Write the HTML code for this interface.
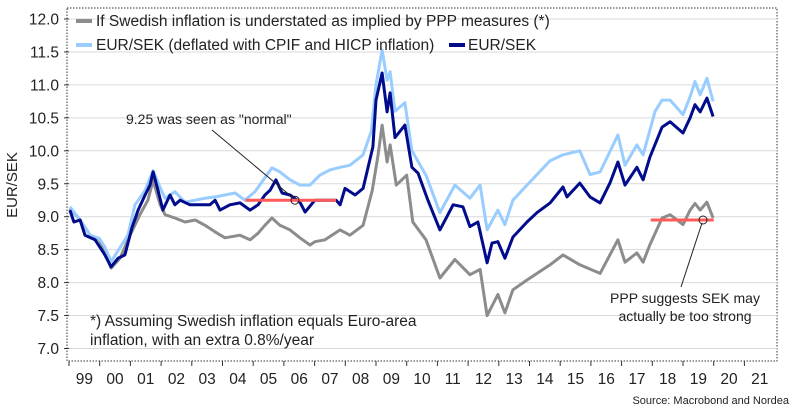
<!DOCTYPE html>
<html><head><meta charset="utf-8">
<style>
html,body{margin:0;padding:0;background:#fff;}
svg{display:block;font-family:"Liberation Sans",sans-serif;}
</style></head>
<body>
<svg id="chart" width="794" height="416" viewBox="0 0 794 416" xmlns="http://www.w3.org/2000/svg">
<rect x="67" y="8" width="710" height="353" fill="none" stroke="#333" stroke-width="1" stroke-dasharray="1.5,1.5"/>
<g id="grid"></g>
<g id="yaxis"></g>
<g id="xaxis"></g>
<text transform="translate(17,185) rotate(-90)" text-anchor="middle" font-size="15" fill="#222">EUR/SEK</text>
<g id="series"></g>
<g id="annot"></g>
<g>
<line x1="76" y1="21" x2="92" y2="21" stroke="#8c8c8c" stroke-width="4"/>
<text x="96" y="26" font-size="15.5" fill="#222">If Swedish inflation is understated as implied by PPP measures (*)</text>
<line x1="76" y1="45" x2="92" y2="45" stroke="#99ccff" stroke-width="4"/>
<text x="96" y="50" font-size="15.5" fill="#222">EUR/SEK (deflated with CPIF and HICP inflation)</text>
<line x1="449" y1="45" x2="465" y2="45" stroke="#000c8c" stroke-width="4"/>
<text x="468" y="50" font-size="15.5" fill="#222">EUR/SEK</text>
</g>
<text x="90" y="326" font-size="15.5" fill="#222">*) Assuming Swedish inflation equals Euro-area</text>
<text x="90" y="345" font-size="15.5" fill="#222">inflation, with an extra 0.8%/year</text>
<text x="789" y="404" font-size="11" fill="#222" text-anchor="end">Source: Macrobond and Nordea</text>
</svg>
<script>
const yTicks=[7.0,7.5,8.0,8.5,9.0,9.5,10.0,10.5,11.0,11.5,12.0];
const yearLabels=["99","00","01","02","03","04","05","06","07","08","09","10","11","12","13","14","15","16","17","18","19","20","21"];
const darkDates=[1999.03,1999.16,1999.36,1999.52,1999.85,2000.17,2000.37,2000.6,2000.82,2001.05,2001.25,2001.48,2001.64,2001.74,2001.9,2002.06,2002.29,2002.45,2002.62,2002.94,2003.27,2003.59,2003.76,2003.92,2004.24,2004.57,2004.9,2005.16,2005.38,2005.55,2005.74,2005.94,2006.2,2006.52,2006.69,2007.01,2007.34,2007.7,2007.83,2007.99,2008.32,2008.58,2008.9,2009.0,2009.2,2009.36,2009.46,2009.62,2009.94,2010.17,2010.37,2010.69,2011.08,2011.31,2011.51,2011.83,2012.06,2012.32,2012.62,2012.78,2012.97,2013.2,2013.46,2013.92,2014.24,2014.67,2015.09,2015.22,2015.64,2015.97,2016.3,2016.62,2016.88,2017.11,2017.5,2017.7,2017.92,2018.32,2018.58,2019.0,2019.23,2019.39,2019.56,2019.78,2019.98];
const darkValues=[9.1,8.92,8.95,8.72,8.65,8.42,8.24,8.37,8.42,8.83,9.1,9.33,9.48,9.68,9.4,9.1,9.33,9.18,9.25,9.18,9.18,9.18,9.25,9.1,9.18,9.21,9.1,9.18,9.33,9.4,9.56,9.36,9.33,9.22,9.07,9.25,9.25,9.25,9.18,9.43,9.33,9.43,10.06,10.77,11.18,10.59,10.88,10.2,10.39,9.75,9.66,9.25,8.8,9.0,9.18,9.15,8.85,8.92,8.3,8.6,8.62,8.37,8.69,8.92,9.06,9.21,9.45,9.3,9.51,9.3,9.21,9.51,9.83,9.48,9.75,9.56,9.9,10.36,10.44,10.27,10.5,10.7,10.59,10.8,10.52];
const lightDates=[1999.03,1999.36,1999.69,1999.99,2000.17,2000.37,2000.66,2000.92,2001.15,2001.48,2001.74,2001.97,2002.13,2002.45,2002.78,2003.11,2003.43,2003.76,2004.08,2004.41,2004.73,2005.06,2005.38,2005.61,2005.87,2006.2,2006.52,2006.85,2007.17,2007.5,2007.83,2008.15,2008.58,2008.85,2009.0,2009.2,2009.36,2009.46,2009.62,2009.94,2010.17,2010.63,2011.08,2011.57,2012.06,2012.39,2012.62,2012.97,2013.2,2013.46,2013.92,2014.67,2015.09,2015.64,2015.97,2016.3,2016.88,2017.11,2017.5,2017.7,2018.09,2018.32,2018.58,2019.0,2019.23,2019.39,2019.56,2019.78,2019.98];
const lightValues=[9.15,8.95,8.72,8.67,8.54,8.32,8.53,8.72,9.18,9.4,9.7,9.44,9.28,9.38,9.22,9.25,9.28,9.3,9.33,9.36,9.25,9.38,9.59,9.74,9.68,9.56,9.48,9.48,9.63,9.71,9.75,9.78,9.94,10.3,11.0,11.53,11.07,11.2,10.6,10.73,10.0,9.63,9.06,9.48,9.28,9.48,8.8,9.1,8.88,9.25,9.48,9.85,9.94,10.0,9.64,9.68,10.24,9.78,10.09,9.94,10.6,10.77,10.77,10.55,10.82,11.05,10.85,11.1,10.75];
const grayDates=[1999.03,1999.36,1999.69,1999.99,2000.37,2000.66,2000.99,2001.31,2001.57,2001.74,2001.97,2002.13,2002.45,2002.78,2003.11,2003.43,2003.76,2004.08,2004.57,2004.9,2005.16,2005.38,2005.61,2005.87,2006.2,2006.52,2006.85,2007.01,2007.34,2007.83,2008.15,2008.58,2008.88,2009.07,2009.2,2009.36,2009.46,2009.66,2010.0,2010.2,2010.63,2011.08,2011.57,2012.06,2012.39,2012.62,2012.97,2013.2,2013.46,2013.92,2014.67,2015.09,2015.64,2016.3,2016.88,2017.11,2017.5,2017.7,2017.92,2018.32,2018.58,2019.0,2019.23,2019.39,2019.56,2019.78,2019.98];
const grayValues=[9.13,8.95,8.72,8.65,8.22,8.37,8.72,9.03,9.25,9.55,9.18,9.03,8.98,8.92,8.95,8.87,8.77,8.68,8.72,8.65,8.75,8.87,8.98,8.87,8.8,8.68,8.57,8.62,8.65,8.8,8.72,8.87,9.4,9.94,10.39,9.83,10.09,9.48,9.63,8.92,8.65,8.07,8.35,8.12,8.2,7.5,7.82,7.54,7.89,8.04,8.27,8.42,8.27,8.14,8.65,8.31,8.45,8.31,8.57,8.98,9.03,8.88,9.1,9.2,9.1,9.22,8.98];

const NS="http://www.w3.org/2000/svg";
const X0=69,YW=30.7,Y12=19,PU=65.9;
function xs(t){return X0+(t-1999)*YW;}
function ys(v){return Y12+(12-v)*PU;}
function mk(tag,attrs,parent){const e=document.createElementNS(NS,tag);for(const k in attrs)e.setAttribute(k,attrs[k]);parent.appendChild(e);return e;}
const grid=document.getElementById('grid'),ya=document.getElementById('yaxis'),xa=document.getElementById('xaxis');
yTicks.forEach(v=>{
 const g=mk('line',{x1:69,x2:777,y1:ys(v),y2:ys(v),stroke:'#d9d9d9','stroke-width':1},grid);
 
 
 const tk=mk('line',{x1:64,x2:69,y1:ys(v),y2:ys(v),stroke:'#333'},ya);
 
 
 const t=mk('text',{x:59,y:ys(v)+5.5,'text-anchor':'end','font-size':15.5,fill:'#222'},ya);
 t.textContent=v.toFixed(1);
 
 
});
yearLabels.forEach((lab,i)=>{
 const tk=mk('line',{x1:xs(1999+i),x2:xs(1999+i),y1:361,y2:366,stroke:'#333'},xa);
 
 
 const t=mk('text',{x:xs(1999.5+i),y:384,'text-anchor':'middle','font-size':15.5,fill:'#222'},xa);
 t.textContent=lab;
 
 
});
const sg=document.getElementById('series');
function line(dates,vals,color,w,name){
 const d=dates.map((t,i)=>(i?'L':'M')+xs(t).toFixed(1)+','+ys(vals[i]).toFixed(1)).join('');
 const p=mk('path',{d:d,fill:'none',stroke:color,'stroke-width':w,'stroke-linejoin':'round'},sg);
 
 
}
line(grayDates,grayValues,'#8c8c8c',3,'series-ppp-adjusted');
line(lightDates,lightValues,'#99ccff',3,'series-eursek-deflated');
line(darkDates,darkValues,'#000c8c',3,'series-eursek');
const an=document.getElementById('annot');
const r1=mk('line',{x1:xs(2004.75),x2:xs(2007.7),y1:ys(9.25),y2:ys(9.25),stroke:'#ff5a5a','stroke-width':3},an);


const r2=mk('line',{x1:xs(2017.95),x2:xs(2020.0),y1:ys(8.95),y2:ys(8.95),stroke:'#ff5a5a','stroke-width':3},an);


const c1=mk('circle',{cx:295,cy:ys(9.25),r:4,fill:'none',stroke:'#222','stroke-width':1},an);


const c2=mk('circle',{cx:703,cy:ys(8.95),r:4,fill:'none',stroke:'#222','stroke-width':1},an);


const a1=mk('line',{x1:212,y1:130,x2:292,y2:197,stroke:'#222','stroke-width':1},an);


const a2=mk('line',{x1:702,y1:223,x2:681,y2:287,stroke:'#222','stroke-width':1},an);


const t1=mk('text',{x:126,y:124,'font-size':14,fill:'#222'},an);
t1.textContent='9.25 was seen as "normal"';


const t2=mk('text',{x:685,y:303,'font-size':14,fill:'#222','text-anchor':'middle'},an);
t2.textContent='PPP suggests SEK may';


const t3=mk('text',{x:685,y:321,'font-size':14,fill:'#222','text-anchor':'middle'},an);
t3.textContent='actually be too strong';


</script>
</body></html>
